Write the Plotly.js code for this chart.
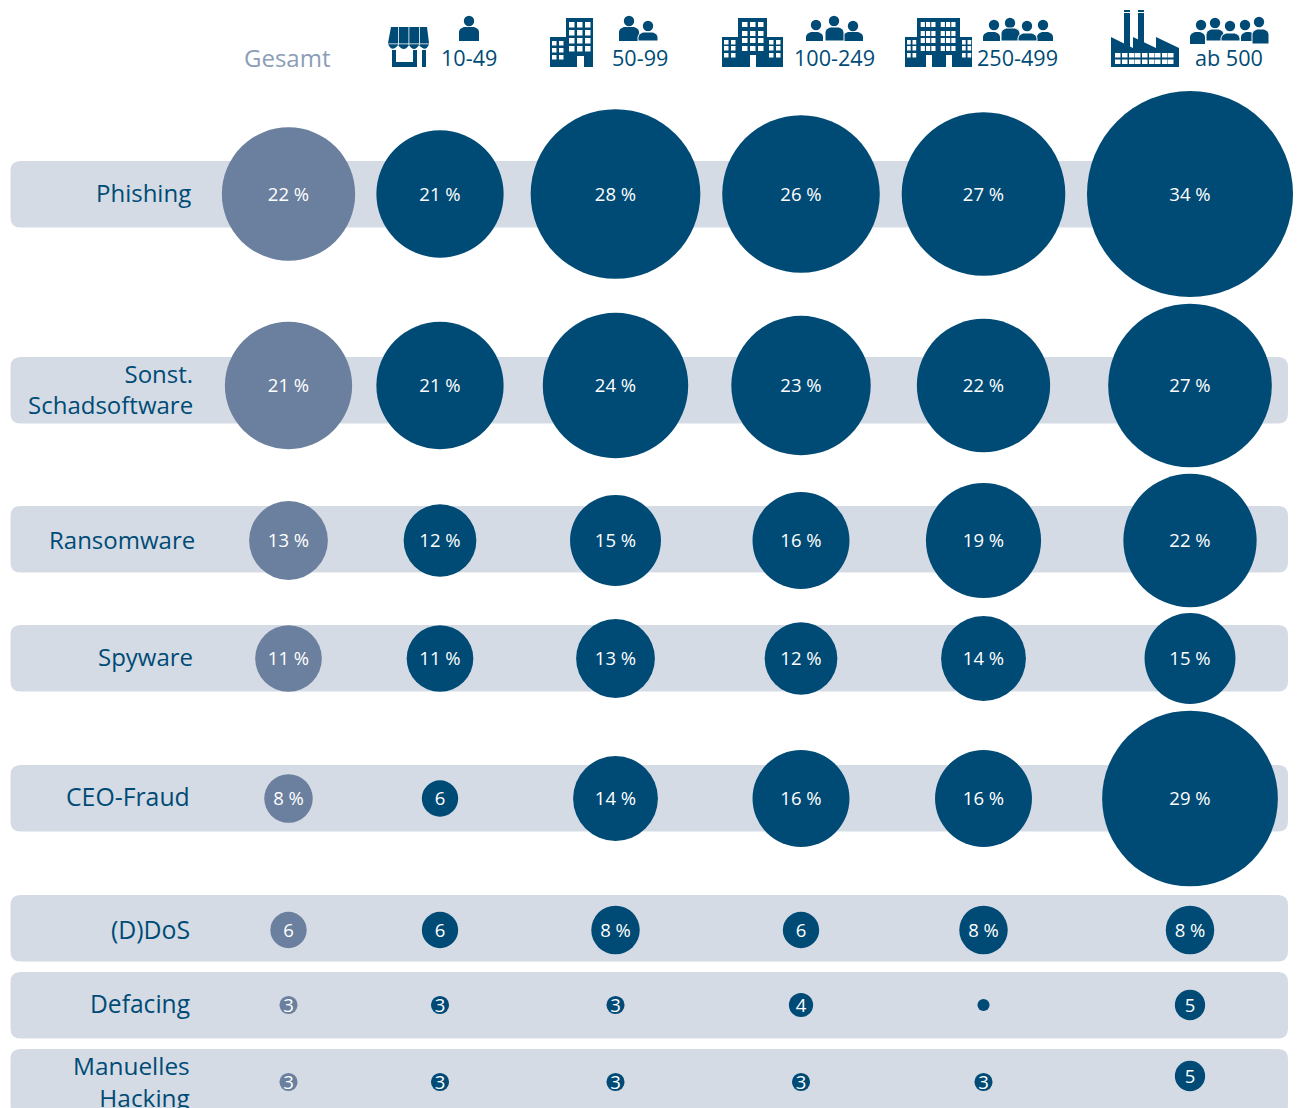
<!DOCTYPE html>
<html><head><meta charset="utf-8">
<script src="https://cdn.plot.ly/plotly-3.0.1.min.js"></script>
<style>html,body{margin:0;padding:0;background:#fff;overflow:hidden}#c{width:1297px;height:1108px}</style>
</head><body><div id="c"></div>
<script>
// ---- data ----
const threats = ["Phishing","Sonst.<br>Schadsoftware","Ransomware","Spyware","CEO-Fraud","(D)DoS","Defacing","Manuelles<br>Hacking"];
const columns = ["Gesamt","10-49","50-99","100-249","250-499","ab 500"];
const gesamt   = [22,21,13,11,8,6,3,3];
const s10_49   = [21,21,12,11,6,6,3,3];
const s50_99   = [28,24,15,13,14,8,3,3];
const s100_249 = [26,23,16,12,16,6,4,3];
const s250_499 = [27,22,19,14,16,8,2,3];
const ab500    = [34,27,22,15,29,8,5,5];

// ---- layout constants ----
const DARK="#004B76", GREY="#6B7F9E", BAND="#D5DBE5", HEAD="#8C9DB7";
const FONT='"Open Sans", "Noto Sans", sans-serif';
const colX=[288.5,440,615.5,801,983.5,1190];
const rowY=[194,385.5,540.5,658.5,798.5,930,1005,1082];
const labelX=[193,195,197,195,192,192,192,192];
const labelY=[192,389,539,656,796,929,1003,1081];
const labelSize=[24,24,24,24,24.8,24.8,24.6,24.4];
const bandTop=[161,357,506,625,765,895,972,1049];
const headX=[287,469,640,834.5,1017.5,1229];
const PX_PER_UNIT=6.06;
const TEXT_DROP=2;

const cellLabel=v=>v<3?"":(v>=8?v+" %":String(v));
function cellY(r,c){return (r===7&&c===5)?1076:rowY[r];}
function bubbles(vals,c,color,name){
  return {type:"scatter",mode:"markers",name,
    x:vals.map(()=>colX[c]),y:vals.map((_,r)=>cellY(r,c)),
    marker:{size:vals,sizemode:"diameter",sizeref:1/PX_PER_UNIT,color,line:{width:0},opacity:1},
    cliponaxis:false,hoverinfo:"skip",showlegend:false};
}
function labels(vals,c,name){
  return {type:"scatter",mode:"text",name:name+" labels",
    x:vals.map(()=>colX[c]),y:vals.map((_,r)=>cellY(r,c)+TEXT_DROP),
    text:vals.map(cellLabel),textposition:"middle center",
    textfont:{family:FONT,size:18.5,color:"#fff"},
    cliponaxis:false,hoverinfo:"skip",showlegend:false};
}
const series=[gesamt,s10_49,s50_99,s100_249,s250_499,ab500];
const data=series.map((v,i)=>bubbles(v,i,i===0?GREY:DARK,columns[i]))
  .concat(series.map((v,i)=>labels(v,i,columns[i])));

// ---- shapes ----
const shapes=[];
function roundRect(x0,y0,x1,y1,r){
  return `M${x0+r},${y0} L${x1-r},${y0} Q${x1},${y0} ${x1},${y0+r} L${x1},${y1-r} Q${x1},${y1} ${x1-r},${y1} L${x0+r},${y1} Q${x0},${y1} ${x0},${y1-r} L${x0},${y0+r} Q${x0},${y0} ${x0+r},${y0} Z`;
}
function path(p,fill,line){shapes.push({type:"path",path:p,fillcolor:fill,line:line||{width:0},layer:"below",xref:"x",yref:"y"});}
function rect(x0,y0,x1,y1,fill){shapes.push({type:"rect",x0,y0,x1,y1,fillcolor:fill,line:{width:0},layer:"below",xref:"x",yref:"y"});}
function circle(cx,cy,r,fill){shapes.push({type:"circle",x0:cx-r,x1:cx+r,y0:cy-r,y1:cy+r,fillcolor:fill,line:{width:0},layer:"below",xref:"x",yref:"y"});}
bandTop.forEach(t=>path(roundRect(10.5,t,1288,t+66.5,10),BAND));

function person(cx,cy,x0,x1,top,bot,sep){
  circle(cx,cy,5.2,DARK);
  const r=5;
  path(`M${x0},${bot} L${x0},${top+r} Q${x0},${top+1.5} ${x0+r},${top} L${x1-r},${top} Q${x1},${top+1.5} ${x1},${top+r} L${x1},${bot} Z`,DARK,
       sep?{color:"#fff",width:1}:{width:0});
}
function windows(xs,ys,w,h){xs.forEach(x=>ys.forEach(y=>rect(x,y,x+w,y+h,"#fff")));}

// store
path(`M391,27 L427,27 L429,43 L429,44 Q426,53 419,45 Q414,53 409,45 Q404,53 398,45 Q392,53 388,44 L388,43 Z`,DARK);
[398,408.5,419].forEach(x=>rect(x,27,x+0.8,45,"#fff"));
rect(388,43.5,429,44.3,"#fff");
path(`M392,50 L396,50 L396,62 L413,62 L413,50 L417,50 L417,67 L392,67 Z`,DARK);
rect(422,50,426,67,DARK);
person(469,21,459,479,27,41);

// 50-99 building
rect(550,37,566,67,DARK); rect(566,18,593,67,DARK);
windows([552,559],[41,48,55],4.5,4.5);
windows([569,577,585],[22,30,38,46],5.5,5.5);
rect(577,56,584,67,"#fff");
person(629,21,619,639,27,41);
person(648,26,638,658,32,41,true);

// 100-249 building
rect(722,37,738,67,DARK); rect(738,18,767,67,DARK); rect(767,37,783,67,DARK);
windows([724,731],[40,46,53],4.5,4.5);
windows([742,750,758],[22,31,38,46],5.5,5);
windows([769,776],[40,46,53],4.5,4.5);
rect(750,55,756,67,"#fff");
person(816,25,806,823,32,41);
person(853,26,843,863,32,41);
person(834,21,825,844,27,41,true);

// 250-499 building
rect(905,37,917,67,DARK); rect(917,18,960,67,DARK); rect(960,37,972,67,DARK);
windows([907,912.5],[40,46,53],3.7,4.5);
windows([920.7,926,931.3,940.7,946,951.3],[22,31,38,46],4.2,5);
windows([962,967.5],[40,46,53],3.7,4.5);
rect(926,55,932,67,"#fff"); rect(946,55,952,67,"#fff");
person(994,25,983,1000,32,41);
person(1043,25,1037,1053,32,41);
person(1010,23,1001,1020,28,41,true);
person(1027,26,1018,1037,33,41,true);

// factory
rect(1124,10,1130,48,DARK); rect(1138,10,1144,48,DARK);
rect(1124,12,1130,13,"#fff"); rect(1138,12,1144,13,"#fff");
path(`M1111,37 L1133,48 L1133,37 L1156,48 L1156,37 L1179,48 L1179,67 L1111,67 Z`,DARK);
windows([1115,1122,1129,1135,1142,1149,1155,1162,1168],[53,59.5],5.5,4.5);
// 5 people
person(1201,25,1190,1205,32,44);
person(1245,25,1241,1255,32,41);
person(1259,22,1252,1269,29,44,true);
person(1215,23,1206,1224,29,41,true);
person(1230,26,1221,1240,33,41,true);

// ---- text ----
const annotations=[];
threats.forEach((t,i)=>annotations.push({x:labelX[i],y:labelY[i],text:t,xref:"x",yref:"y",showarrow:false,
  xanchor:"right",yanchor:"middle",align:"right",font:{family:FONT,size:labelSize[i],color:DARK}}));
columns.forEach((c,i)=>annotations.push({x:headX[i],y:i===0?57:57.5,text:c,xref:"x",yref:"y",showarrow:false,
  xanchor:"center",yanchor:"middle",font:{family:FONT,size:i===0?24:21.6,color:i===0?HEAD:DARK}}));

const layout={width:1297,height:1108,margin:{l:0,r:0,t:0,b:0},paper_bgcolor:"#fff",plot_bgcolor:"#fff",
  xaxis:{range:[0,1297],visible:false,fixedrange:true},
  yaxis:{range:[1108,0],visible:false,fixedrange:true},
  showlegend:false,hovermode:false,shapes,annotations};
Plotly.newPlot("c",data,layout,{displayModeBar:false,staticPlot:true});
</script></body></html>
